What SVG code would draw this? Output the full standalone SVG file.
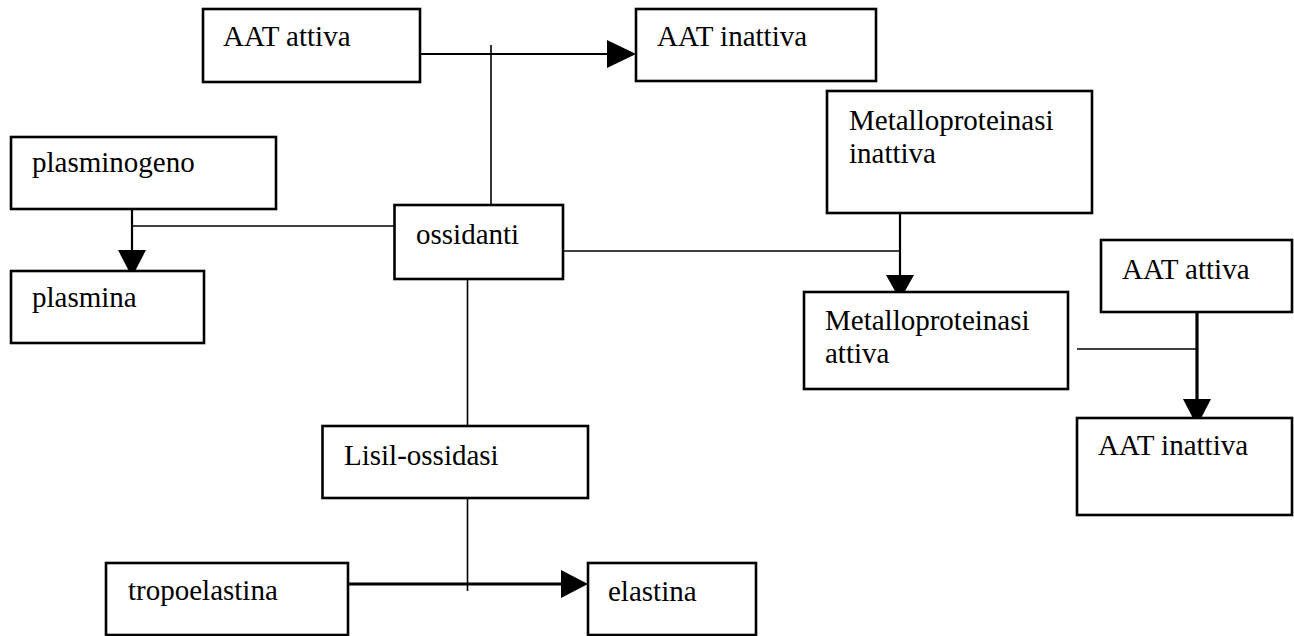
<svg xmlns="http://www.w3.org/2000/svg" width="1294" height="636" viewBox="0 0 1294 636">
<style>
.box{fill:#fff;stroke:#000;stroke-width:2.6}
.t{font-family:"Liberation Serif","Times New Roman",serif;font-size:29px;fill:#000}
.ln{stroke:#000;stroke-width:1.6;fill:none}
.ln2{stroke:#000;stroke-width:2.2;fill:none}
.ln3{stroke:#000;stroke-width:3.2;fill:none}
.ah{fill:#000;stroke:none}
</style>
<rect width="1294" height="636" fill="#fff"/>
<g id="connectors">
<line class="ln2" x1="420" y1="54" x2="610" y2="54"/>
<polygon class="ah" points="607,40 636,54 607,68"/>
<line class="ln" x1="491" y1="45" x2="491" y2="212"/>
<line class="ln2" x1="132" y1="207" x2="132" y2="252"/>
<polygon class="ah" points="118,250 146,250 132,277"/>
<line class="ln" x1="132" y1="226" x2="395" y2="226"/>
<line class="ln" x1="563" y1="251" x2="900" y2="251"/>
<line class="ln2" x1="900" y1="207" x2="900" y2="277"/>
<polygon class="ah" points="886,275 914,275 900,300"/>
<line class="ln" x1="467.5" y1="272" x2="467.5" y2="426"/>
<line class="ln" x1="467.5" y1="495" x2="467.5" y2="591"/>
<line class="ln3" x1="348" y1="584" x2="563" y2="584"/>
<polygon class="ah" points="561,570 588,584 561,598"/>
<line class="ln3" x1="1197" y1="308" x2="1197" y2="401"/>
<polygon class="ah" points="1183,399 1211,399 1197,426"/>
<line class="ln" x1="1077" y1="349" x2="1197" y2="349"/>
</g>
<g id="aat-attiva-1"><rect class="box" x="203" y="9" width="217" height="73"/><text class="t" x="223" y="46">AAT attiva</text></g>
<g id="aat-inattiva-1"><rect class="box" x="636" y="9" width="240" height="72"/><text class="t" x="657" y="46">AAT inattiva</text></g>
<g id="plasminogeno"><rect class="box" x="11" y="137" width="265" height="72"/><text class="t" x="32" y="172">plasminogeno</text></g>
<g id="plasmina"><rect class="box" x="11" y="271" width="193" height="72"/><text class="t" x="32" y="307">plasmina</text></g>
<g id="ossidanti"><rect class="box" x="394.5" y="205" width="168.5" height="74"/><text class="t" x="416" y="244">ossidanti</text></g>
<g id="metallo-inattiva"><rect class="box" x="827" y="91" width="265" height="122"/><text class="t" x="849" y="130">Metalloproteinasi</text><text class="t" x="849" y="163">inattiva</text></g>
<g id="metallo-attiva"><rect class="box" x="804" y="292" width="264" height="97"/><text class="t" x="825" y="330">Metalloproteinasi</text><text class="t" x="825" y="363">attiva</text></g>
<g id="aat-attiva-2"><rect class="box" x="1101" y="240" width="191" height="72"/><text class="t" x="1122" y="279">AAT attiva</text></g>
<g id="aat-inattiva-2"><rect class="box" x="1077" y="418" width="215" height="97"/><text class="t" x="1098" y="455">AAT inattiva</text></g>
<g id="lisil-ossidasi"><rect class="box" x="322.5" y="426" width="265.5" height="72"/><text class="t" x="344" y="465">Lisil-ossidasi</text></g>
<g id="tropoelastina"><rect class="box" x="106" y="563" width="242" height="72"/><text class="t" x="128" y="600">tropoelastina</text></g>
<g id="elastina"><rect class="box" x="588" y="563" width="168" height="72"/><text class="t" x="608" y="601">elastina</text></g>
</svg>
